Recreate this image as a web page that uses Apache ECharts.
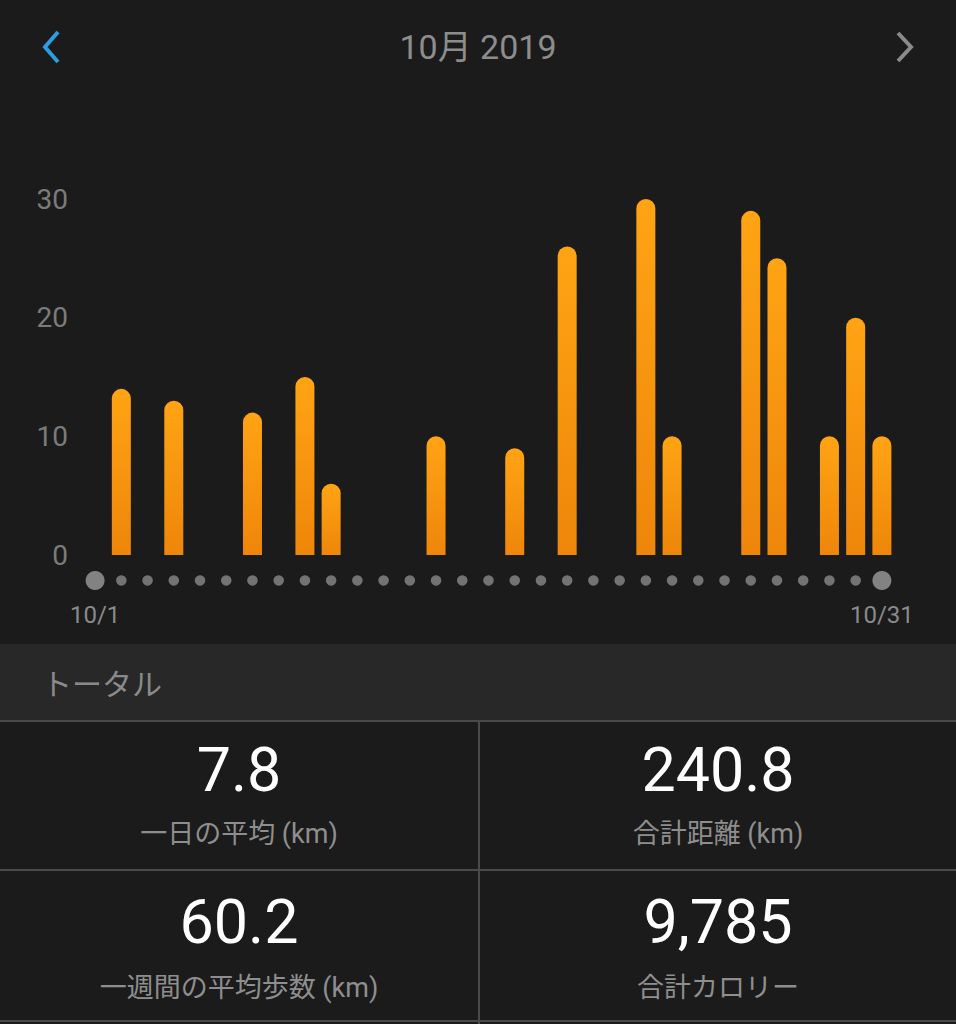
<!DOCTYPE html>
<html>
<head>
<meta charset="utf-8">
<script src="https://cdn.jsdelivr.net/npm/echarts@6/dist/echarts.min.js"></script>
<style>
html,body{margin:0;padding:0;background:#1b1b1b;}
#main{width:956px;height:1024px;}
</style>
</head>
<body>
<div id="main"></div>
<script>
// ---- data ----
const monthTitle = '10月 2019';
const days = ['10/1','10/2','10/3','10/4','10/5','10/6','10/7','10/8','10/9','10/10','10/11','10/12','10/13','10/14','10/15','10/16','10/17','10/18','10/19','10/20','10/21','10/22','10/23','10/24','10/25','10/26','10/27','10/28','10/29','10/30','10/31'];
const distances = [0,14,0,13,0,0,12,0,15,6,0,0,0,10,0,0,9,0,26,0,0,30,10,0,0,29,25,0,10,20,10];
const yTicks = [0,10,20,30];
const sectionTitle = 'トータル';
const statValues = ['7.8','240.8','60.2','9,785'];
const statLabels = ['一日の平均 (km)','合計距離 (km)','一週間の平均歩数 (km)','合計カロリー'];

// ---- chart ----
const chart = echarts.init(document.getElementById('main'), null, {renderer:'svg', width:956, height:1024});
const FONT = 'Roboto, "Noto Sans CJK JP", sans-serif';
const lineColor = '#4a4a4a';

const cellCx = [239, 718, 239, 718];
const numCy = [770, 770, 922, 922];
const labCy = [834, 834, 988, 988];

const graphics = [
  {type:'text', x:478, y:47, style:{text:monthTitle, fill:'#8d8d8d', font:'34px ' + FONT, textAlign:'center', textVerticalAlign:'middle'}},
  {type:'polyline', shape:{points:[[58,32],[45,47],[58,62]]}, style:{stroke:'#2b9de0', lineWidth:4, fill:null, lineJoin:'miter'}},
  {type:'polyline', shape:{points:[[898,33],[911,47],[898,61]]}, style:{stroke:'#8a8a8a', lineWidth:4, fill:null}},
  {type:'rect', shape:{x:0, y:644, width:956, height:76}, style:{fill:'#282828'}, z:-1},
  {type:'text', x:42, y:684, style:{text:sectionTitle, fill:'#8a8a8a', font:'30px ' + FONT, textAlign:'left', textVerticalAlign:'middle'}},
  {type:'line', shape:{x1:0, y1:721, x2:956, y2:721}, style:{stroke:lineColor, lineWidth:2}},
  {type:'line', shape:{x1:0, y1:870, x2:956, y2:870}, style:{stroke:lineColor, lineWidth:2}},
  {type:'line', shape:{x1:0, y1:1021, x2:956, y2:1021}, style:{stroke:lineColor, lineWidth:2}},
  {type:'line', shape:{x1:479, y1:721, x2:479, y2:1024}, style:{stroke:lineColor, lineWidth:2}}
];
statValues.forEach((v, i) => {
  graphics.push({type:'text', x:cellCx[i], y:numCy[i], style:{text:v, fill:'#ffffff', font:'61px ' + FONT, textAlign:'center', textVerticalAlign:'middle'}});
  graphics.push({type:'text', x:cellCx[i], y:labCy[i], style:{text:statLabels[i], fill:'#8e8e8e', font:'27px ' + FONT, textAlign:'center', textVerticalAlign:'middle'}});
});

const option = {
  backgroundColor:'#1b1b1b',
  animation:false,
  grid:[
    {left:82, right:61, top:199, height:356},
    {left:82, right:61, top:570, height:21}
  ],
  xAxis:[
    {type:'category', gridIndex:0, data:days, boundaryGap:true, axisLine:{show:false}, axisTick:{show:false}, axisLabel:{show:false}},
    {type:'category', gridIndex:1, data:days, boundaryGap:true, axisLine:{show:false}, axisTick:{show:false},
     axisLabel:{show:true, interval:(idx) => idx === 0 || idx === days.length - 1, color:'#8a8a8a', fontSize:24, fontFamily:FONT, margin:12}}
  ],
  yAxis:[
    {type:'value', gridIndex:0, min:yTicks[0], max:yTicks[yTicks.length-1], interval:10, splitLine:{show:false}, axisLine:{show:false}, axisTick:{show:false},
     axisLabel:{color:'#7b7b7b', fontSize:28, fontFamily:FONT, margin:14}},
    {type:'value', gridIndex:1, min:-1, max:1, show:false}
  ],
  series:[
    {type:'bar', xAxisIndex:0, yAxisIndex:0, data:distances, barWidth:19,
     itemStyle:{borderRadius:[9.5,9.5,0,0],
       color:new echarts.graphic.LinearGradient(0,0,0,1,[{offset:0,color:'#ffa414'},{offset:1,color:'#ee860a'}])}},
    {type:'scatter', xAxisIndex:1, yAxisIndex:1, data:days.map(() => 0),
     symbolSize:(val, p) => (p.dataIndex === 0 || p.dataIndex === days.length - 1) ? 19 : 10.5,
     itemStyle:{color:(p) => (p.dataIndex === 0 || p.dataIndex === days.length - 1) ? '#9c9c9c' : '#8a8a8a'}}
  ],
  graphic:graphics
};
chart.setOption(option);
</script>
</body>
</html>
